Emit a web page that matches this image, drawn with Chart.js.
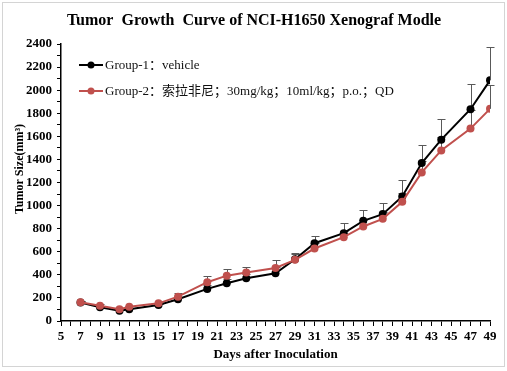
<!DOCTYPE html>
<html>
<head>
<meta charset="utf-8">
<script src="https://cdn.jsdelivr.net/npm/chart.js@4.4.1/dist/chart.umd.min.js"></script>
<style>
html, body { margin: 0; padding: 0; background: #fff; }
</style>
</head>
<body>
<canvas id="tumorChart" width="507" height="371"></canvas>
<script>
// days after inoculation
const days = [7, 9, 11, 12, 15, 17, 20, 22, 24, 27, 29, 31, 34, 36, 38, 40, 42, 44, 47, 49];

// Group-1 vehicle (mean, error)
const vehicle = [160, 119, 88, 101, 139, 188, 278, 327, 370, 414, 535, 674, 761, 868, 926, 1079, 1369, 1571, 1835, 2085];
const vehicleErr = [10, 10, 10, 10, 12, 20, 30, 40, 40, 50, 55, 60, 90, 95, 95, 145, 160, 180, 220, 290];

// Group-2 sorafenib (mean, error)
const sorafenib = [162, 133, 102, 124, 153, 211, 336, 393, 420, 460, 530, 628, 726, 819, 885, 1033, 1287, 1478, 1667, 1838];
const sorafenibErr = [10, 10, 10, 10, 15, 30, 50, 60, 50, 70, 50, 50, 50, 60, 60, 80, 100, 120, 160, 210];

const labelG1 = 'Group-1：vehicle';
const labelG2 = 'Group-2：索拉非尼；30mg/kg；10ml/kg；p.o.；QD';

const BLACK = '#000000';
const RED = '#c0504d';
const serif = "'Liberation Serif', 'Times New Roman', 'Noto Sans CJK SC', serif";

const decor = {
    id: 'decor',
    beforeDraw(chart) {
        const ctx = chart.ctx;
        ctx.save();
        ctx.fillStyle = '#fff';
        ctx.fillRect(0, 0, chart.width, chart.height);
        ctx.strokeStyle = '#d4d4d4';
        ctx.lineWidth = 1;
        ctx.strokeRect(2.5, 2.5, 502, 364);
        ctx.restore();
    },
    beforeDatasetsDraw(chart) {
        // error bars (plus direction only)
        const ctx = chart.ctx;
        const sx = chart.scales.x, sy = chart.scales.y;
        const sets = [[vehicle, vehicleErr], [sorafenib, sorafenibErr]];
        ctx.save();
        ctx.strokeStyle = '#595959';
        ctx.lineWidth = 1;
        sets.forEach(([vals, errs]) => {
            vals.forEach((v, i) => {
                const px = Math.round(sx.getPixelForValue(days[i])) + 0.5;
                const y0 = sy.getPixelForValue(v);
                const y1 = Math.round(sy.getPixelForValue(v + errs[i])) + 0.5;
                ctx.beginPath();
                ctx.moveTo(px, y0);
                ctx.lineTo(px, y1);
                ctx.moveTo(px - 4, y1);
                ctx.lineTo(px + 4, y1);
                ctx.stroke();
            });
        });
        ctx.restore();
    },
    afterDraw(chart) {
        const ctx = chart.ctx;
        ctx.save();
        ctx.fillStyle = '#000';
        // title
        ctx.font = 'bold 16px ' + serif;
        ctx.textAlign = 'center';
        ctx.textBaseline = 'middle';
        ctx.fillText('Tumor  Growth  Curve of NCI-H1650 Xenograf Modle', 254, 21);

        // y axis title
        ctx.save();
        ctx.translate(20, 169);
        ctx.rotate(-Math.PI / 2);
        ctx.font = 'bold 12px ' + serif;
        ctx.fillText('Tumor Size(mm³)', 0, 0);
        ctx.restore();

        // legend
        const items = [[labelG1, BLACK, 65], [labelG2, RED, 91]];
        ctx.textAlign = 'left';
        ctx.font = '13px ' + serif;
        items.forEach(([txt, col, y]) => {
            ctx.strokeStyle = col;
            ctx.lineWidth = 2;
            ctx.beginPath();
            ctx.moveTo(79, y);
            ctx.lineTo(103, y);
            ctx.stroke();
            ctx.fillStyle = col;
            ctx.beginPath();
            ctx.arc(91, y, 3.5, 0, Math.PI * 2);
            ctx.fill();
            ctx.fillStyle = '#111';
            ctx.fillText(txt, 105, y + 1);
        });
        ctx.restore();
    }
};

const ctx = document.getElementById('tumorChart').getContext('2d');
const tumorChart = new Chart(ctx, {
    type: 'line',
    data: {
        datasets: [{
            label: labelG2,
            data: days.map((d, i) => ({ x: d, y: sorafenib[i] })),
            borderColor: RED,
            backgroundColor: RED,
            borderWidth: 2,
            pointRadius: 4,
            pointBorderWidth: 0,
            tension: 0
        }, {
            label: labelG1,
            data: days.map((d, i) => ({ x: d, y: vehicle[i] })),
            borderColor: BLACK,
            backgroundColor: BLACK,
            borderWidth: 2,
            pointRadius: 4,
            pointBorderWidth: 0,
            tension: 0
        }]
    },
    options: {
        responsive: false,
        animation: false,
        devicePixelRatio: 1,
        layout: { padding: { top: 44, right: 17, bottom: 0, left: 0 } },
        plugins: {
            legend: { display: false },
            title: { display: false },
            tooltip: { enabled: false }
        },
        scales: {
            x: {
                type: 'linear',
                min: 5,
                max: 49,
                afterFit: s => { s.height = 50; },
                ticks: {
                    stepSize: 1,
                    autoSkip: false,
                    maxRotation: 0,
                    padding: 3,
                    color: '#000',
                    font: { family: serif, size: 13, weight: 'bold' },
                    callback: v => (v % 2 === 1 ? v : '')
                },
                grid: { drawOnChartArea: false, drawTicks: true, tickLength: 5, color: '#000' },
                border: { color: '#000', width: 1.5 },
                title: {
                    display: true,
                    text: 'Days after Inoculation',
                    color: '#000',
                    padding: { top: 2, bottom: 9 },
                    font: { family: serif, size: 13, weight: 'bold' }
                }
            },
            y: {
                min: 0,
                max: 2400,
                afterFit: s => { s.width = 61; },
                ticks: {
                    stepSize: 100,
                    autoSkip: false,
                    padding: 5,
                    color: '#000',
                    font: { family: serif, size: 13, weight: 'bold' },
                    callback: v => (v % 200 === 0 ? v : '')
                },
                grid: { drawOnChartArea: false, drawTicks: true, tickLength: 4, color: '#000' },
                border: { color: '#000', width: 1.5 }
            }
        }
    },
    plugins: [decor]
});
</script>
</body>
</html>
